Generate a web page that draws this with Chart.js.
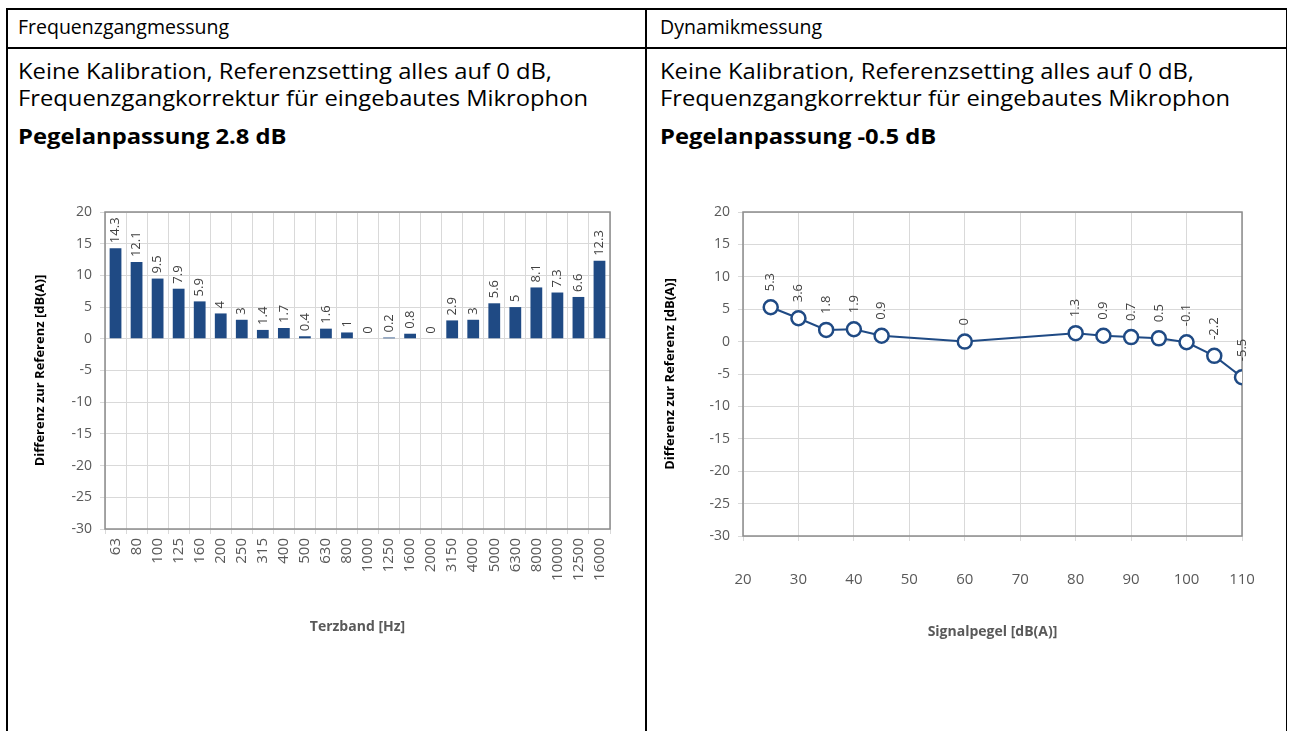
<!DOCTYPE html>
<html>
<head>
<meta charset="utf-8">
<script src="https://cdn.jsdelivr.net/npm/chart.js@4.4.1/dist/chart.umd.min.js"></script>
<style>
  html, body { margin: 0; padding: 0; background: #fff; width: 1291px; height: 731px; overflow: hidden; }
  body { position: relative; font-family: "Open Sans", "Noto Sans", sans-serif; color: #000; }
  .line { position: absolute; background: #000; }
  .txt { position: absolute; white-space: nowrap; font-size: 22px; line-height: 27px; transform: scaleX(1.08); transform-origin: 0 0; }
  .hdr { font-size: 19.5px; transform: none; }
  .bold { font-weight: bold; }
  canvas { position: absolute; }
</style>
</head>
<body>
<div class="line" style="left:6px; top:8px; width:1281px; height:1.5px;"></div>
<div class="line" style="left:6px; top:47px; width:1281px; height:1.5px;"></div>
<div class="line" style="left:6px; top:8px; width:1.5px; height:730px;"></div>
<div class="line" style="left:645px; top:8px; width:1.5px; height:730px;"></div>
<div class="line" style="left:1285.5px; top:8px; width:1.5px; height:730px;"></div>

<div class="txt hdr" style="left:18px; top:13px;">Frequenzgangmessung</div>
<div class="txt hdr" style="left:660px; top:13px;">Dynamikmessung</div>

<div class="txt" style="left:18px; top:57px;">Keine Kalibration, Referenzsetting alles auf 0 dB,<br>Frequenzgangkorrektur für eingebautes Mikrophon</div>
<div class="txt" style="left:660px; top:57px;">Keine Kalibration, Referenzsetting alles auf 0 dB,<br>Frequenzgangkorrektur für eingebautes Mikrophon</div>

<div class="txt bold" style="left:18px; top:122px;">Pegelanpassung 2.8 dB</div>
<div class="txt bold" style="left:660px; top:122px;">Pegelanpassung -0.5 dB</div>

<canvas id="c1" width="610" height="540" style="left:30px; top:190px;"></canvas>
<canvas id="c2" width="630" height="540" style="left:660px; top:190px;"></canvas>

<script>
// ---- data ----
const terzLabels = ["63","80","100","125","160","200","250","315","400","500","630","800","1000","1250","1600","2000","3150","4000","5000","6300","8000","10000","12500","16000"];
const terzValues = [14.3,12.1,9.5,7.9,5.9,4,3,1.4,1.7,0.4,1.6,1,0,0.2,0.8,0,2.9,3,5.6,5,8.1,7.3,6.6,12.3];

const pegelX = [25,30,35,40,45,60,80,85,90,95,100,105,110];
const pegelY = [5.3,3.6,1.8,1.9,0.9,0,1.3,0.9,0.7,0.5,-0.1,-2.2,-5.5];

const yMin = -30, yMax = 20, yStep = 5;
const xMin2 = 20, xMax2 = 110, xStep2 = 10;

const yTitle = "Differenz zur Referenz [dB(A)]";
const xTitle1 = "Terzband [Hz]";
const xTitle2 = "Signalpegel [dB(A)]";

// ---- styling ----
const BLUE = "#1f4a84";
const GRID = "#d9d9d9";
const TICK = "#595959";
const FONT = "'Open Sans', 'Noto Sans', sans-serif";

const valueLabels = {
  id: "valueLabels",
  afterDatasetsDraw(chart, args, opts) {
    const ctx = chart.ctx;
    const meta = chart.getDatasetMeta(0);
    const ds = chart.data.datasets[0].data;
    ctx.save();
    ctx.font = "13px " + FONT;
    ctx.fillStyle = "#404040";
    ctx.textAlign = "left";
    ctx.textBaseline = "middle";
    meta.data.forEach((el, i) => {
      const v = ds[i];
      const val = (typeof v === "object") ? v.y : v;
      ctx.save();
      ctx.translate(el.x, el.y - opts.offset);
      ctx.rotate(-Math.PI / 2);
      ctx.fillText(String(val), 0, 0);
      ctx.restore();
    });
    ctx.restore();
  }
};

const plotBorder = {
  id: "plotBorder",
  beforeDatasetsDraw(chart) {
    const a = chart.chartArea, ctx = chart.ctx;
    ctx.save();
    ctx.strokeStyle = "#8c8c8c";
    ctx.lineWidth = 1.5;
    ctx.strokeRect(a.left, a.top, a.right - a.left, a.bottom - a.top);
    ctx.restore();
  }
};

function yScale(width) {
  return {
    min: yMin, max: yMax,
    ticks: { stepSize: yStep, color: TICK, font: { size: 14, family: FONT }, padding: 8 },
    grid: { color: GRID, tickLength: 5, drawTicks: true },
    border: { display: false },
    title: { display: true, text: yTitle, color: "#000", font: { size: 13, weight: "bold", family: FONT }, padding: 2 },
    afterFit(s) { s.width = width; }
  };
}

new Chart(document.getElementById("c1"), {
  type: "bar",
  data: {
    labels: terzLabels,
    datasets: [{ data: terzValues, backgroundColor: BLUE, barPercentage: 0.56, categoryPercentage: 1.0 }]
  },
  options: {
    responsive: false,
    animation: false,
    layout: { padding: { top: 22, right: 30, bottom: 91, left: 0 } },
    plugins: { legend: { display: false }, tooltip: { enabled: false }, valueLabels: { offset: 5 } },
    scales: {
      x: {
        offset: true,
        ticks: { color: TICK, font: { size: 15, family: FONT }, minRotation: 90, maxRotation: 90, autoSkip: false, padding: 4 },
        grid: { color: GRID, offset: true, tickLength: 5 },
        border: { display: false },
        title: { display: true, text: xTitle1, color: TICK, font: { size: 14, weight: "bold", family: FONT }, padding: 4 },
        afterFit(s) { s.height = 110; }
      },
      y: yScale(75)
    }
  },
  plugins: [valueLabels, plotBorder]
});

new Chart(document.getElementById("c2"), {
  type: "line",
  data: {
    datasets: [{
      data: pegelX.map((x, i) => ({ x: x, y: pegelY[i] })),
      borderColor: BLUE, borderWidth: 2,
      pointRadius: 7, pointBorderWidth: 2.5, pointBackgroundColor: "#fff", pointBorderColor: BLUE,
      tension: 0
    }]
  },
  options: {
    responsive: false,
    animation: false,
    layout: { padding: { top: 22, right: 48, bottom: 86, left: 0 } },
    plugins: { legend: { display: false }, tooltip: { enabled: false }, valueLabels: { offset: 16 } },
    scales: {
      x: {
        type: "linear", min: xMin2, max: xMax2,
        ticks: { stepSize: xStep2, color: TICK, font: { size: 15, family: FONT }, padding: 30 },
        grid: { color: GRID, tickLength: 5 },
        border: { display: false },
        title: { display: true, text: xTitle2, color: TICK, font: { size: 14, weight: "bold", family: FONT }, padding: 4 },
        afterFit(s) { s.height = 108; }
      },
      y: yScale(83)
    }
  },
  plugins: [valueLabels, plotBorder]
});
</script>
</body>
</html>
